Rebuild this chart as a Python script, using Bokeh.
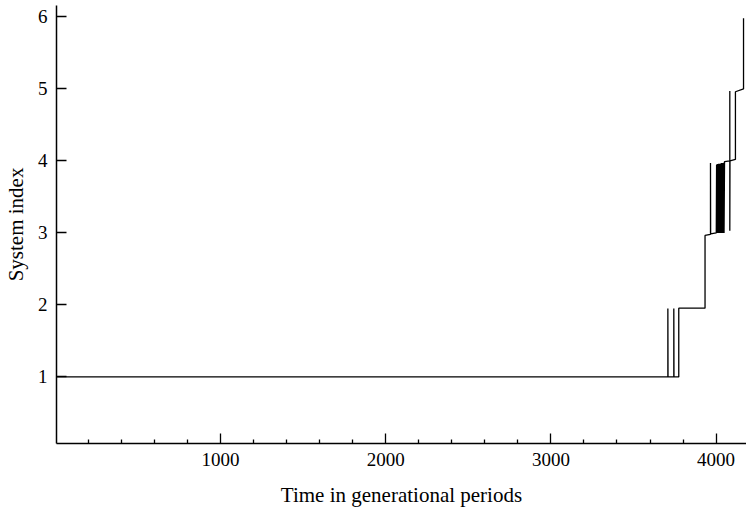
from bokeh.plotting import figure
from bokeh.models import Range1d, FixedTicker
from bokeh.embed import file_html
from bokeh.resources import INLINE

# Data (time in generational periods, system index)
time = [0, 3708, 3708, 3709, 3744, 3744, 3745, 3774, 3774, 3933, 3933, 3966, 3966, 3967,
        4001, 4003, 4006, 4009, 4012, 4015, 4018, 4021, 4024, 4027, 4030, 4033, 4036,
        4039, 4042, 4045, 4048, 4051, 4083, 4083, 4083, 4084, 4117, 4117, 4166, 4166]
system_index = [1, 1, 1.95, 1, 1, 1.95, 1, 1, 1.955, 1.955, 2.965, 2.98, 3.97, 2.985,
                3.0, 3.95, 3.0, 3.955, 3.0, 3.96, 3.0, 3.96, 3.0, 3.965, 3.0, 3.97, 3.0,
                3.97, 3.0, 3.975, 3.0, 3.99, 4.0, 4.97, 3.03, 4.0, 4.02, 4.96, 5.0, 5.98]

x_major = [1000, 2000, 3000, 4000]
x_minor = [200, 400, 600, 800, 1200, 1400, 1600, 1800, 2200, 2400, 2600, 2800,
           3200, 3400, 3600, 3800, 4200]
y_major = [1, 2, 3, 4, 5, 6]

FONT = "Liberation Serif"

p = figure(width=746, height=513, output_backend="svg", toolbar_location=None,
           x_range=Range1d(7.3, 4184), y_range=Range1d(0.075, 6.158),
           min_border_left=56, min_border_right=0, min_border_top=5, min_border_bottom=70)
p.outline_line_color = None
p.grid.visible = False
p.background_fill_color = "white"
p.border_fill_color = "white"

p.line(time, system_index, line_color="black", line_width=1.3)

xa = p.xaxis[0]
xa.ticker = FixedTicker(ticks=x_major, minor_ticks=x_minor)
xa.axis_label = "Time in generational periods"
xa.major_tick_in = 10
xa.major_tick_out = 0
xa.minor_tick_in = 4
xa.minor_tick_out = 0
xa.major_label_standoff = 9
xa.axis_label_standoff = 14

ya = p.yaxis[0]
ya.ticker = FixedTicker(ticks=y_major, minor_ticks=[])
ya.axis_label = "System index"
ya.major_tick_in = 10
ya.major_tick_out = 0
ya.minor_tick_in = 0
ya.minor_tick_out = 0
ya.major_label_standoff = 9
ya.axis_label_standoff = 7

for ax in (xa, ya):
    ax.axis_line_color = "black"
    ax.axis_line_width = 1.5
    ax.major_tick_line_color = "black"
    ax.major_tick_line_width = 1.3
    ax.minor_tick_line_color = "black"
    ax.minor_tick_line_width = 1.3
    ax.major_label_text_font = FONT
    ax.major_label_text_font_size = "19px"
    ax.major_label_text_color = "black"
    ax.axis_label_text_font = FONT
    ax.axis_label_text_font_size = "21px"
    ax.axis_label_text_font_style = "normal"
    ax.axis_label_text_color = "black"

open("out.html", "w").write(file_html(p, INLINE))
